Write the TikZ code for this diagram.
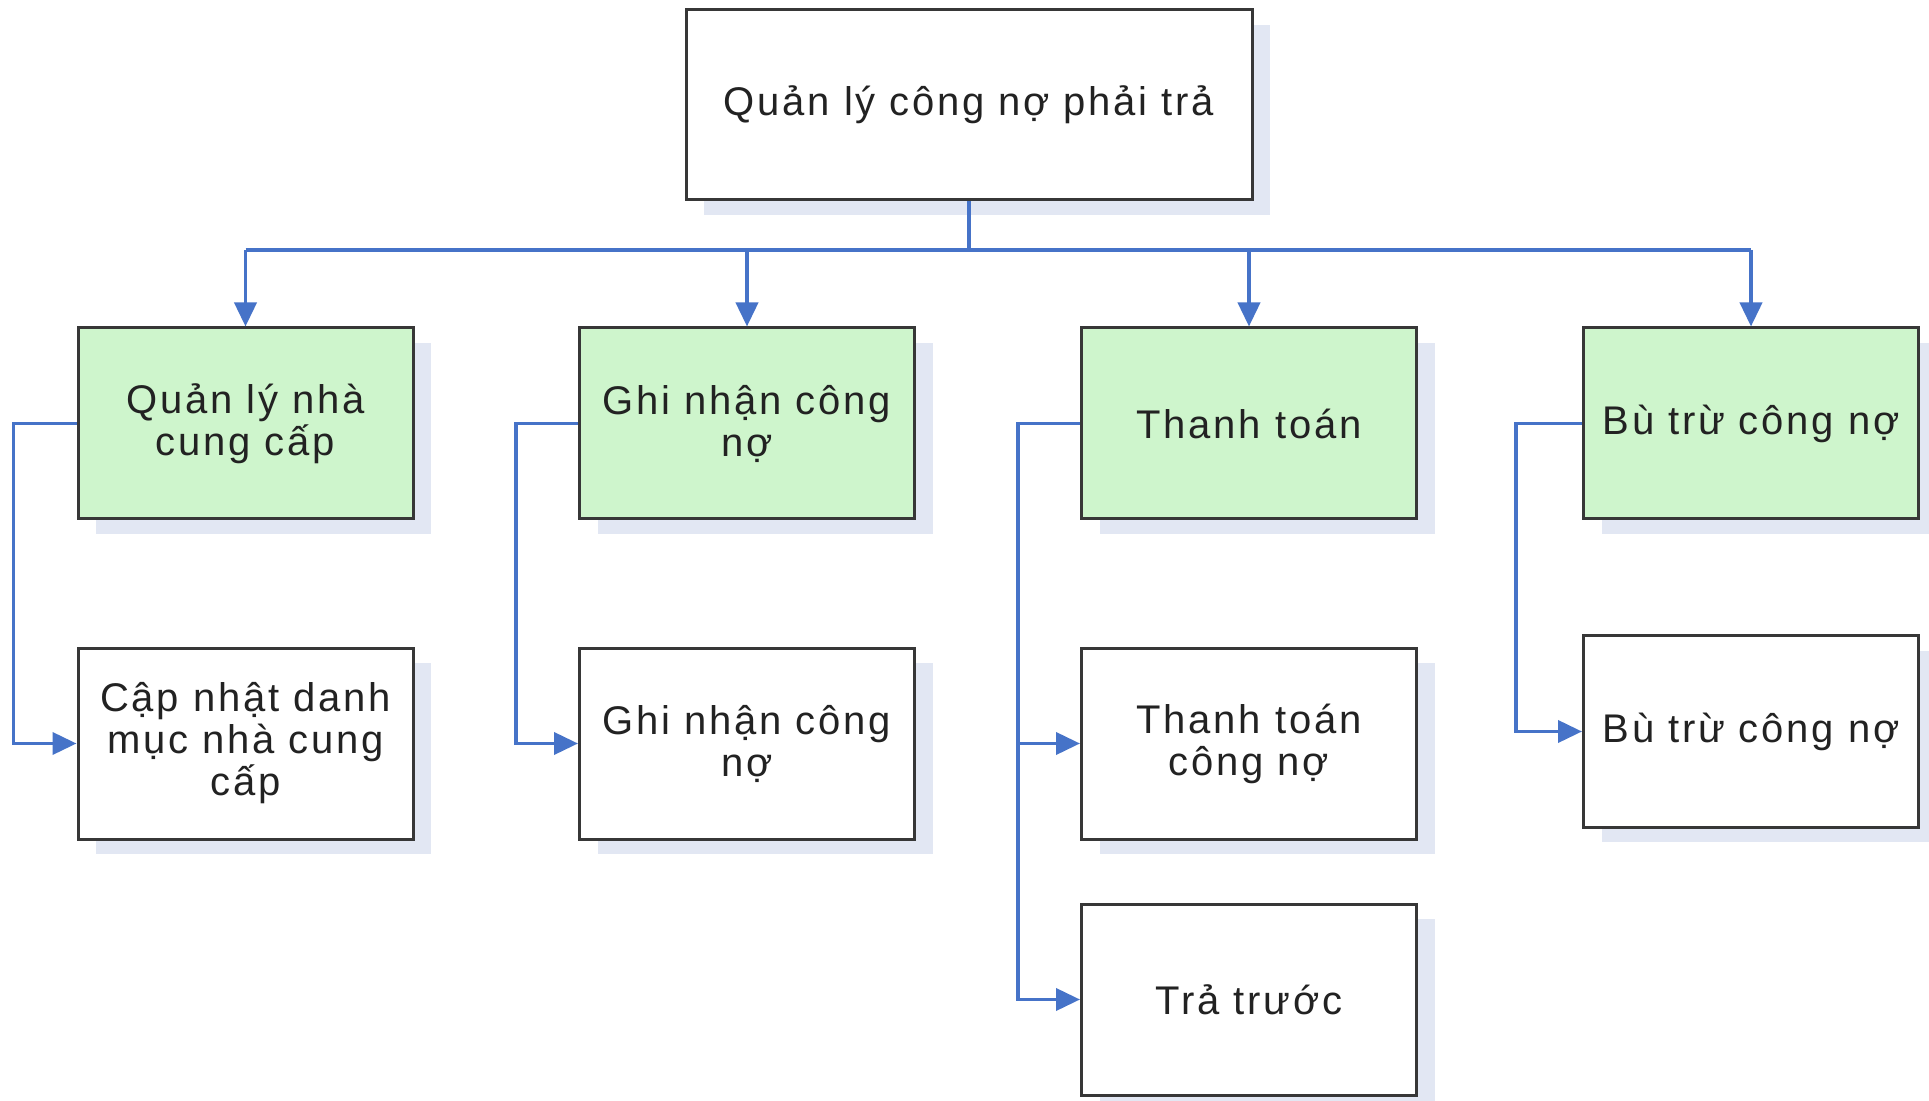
\documentclass[tikz,border=0pt]{standalone}
\usepackage{fontspec}
\setmainfont{Liberation Sans}[LetterSpace=7]
\usetikzlibrary{arrows.meta}
\definecolor{linkblue}{RGB}{70,115,200}
\definecolor{leafgreen}{RGB}{206,245,204}
\definecolor{boxedge}{RGB}{55,55,55}
\definecolor{shadowtint}{RGB}{226,231,243}
\definecolor{labeltext}{RGB}{34,34,34}
\tikzset{
  box/.style={draw=boxedge, line width=1.5pt, fill=white,
    minimum width=167.5pt, minimum height=95.5pt, inner sep=0pt,
    align=center, text=labeltext,
    font=\fontsize{20}{21}\selectfont,
    preaction={fill=shadowtint, draw=none,
      transform canvas={xshift=9pt,yshift=-7.5pt}}},
  groupbox/.style={box, fill=leafgreen},
  link/.style={draw=linkblue, line width=1.9pt},
  arrowlink/.style={link, -{Triangle[length=12pt,width=11pt]}},
}
\begin{document}
\begin{tikzpicture}[x=0.5pt,y=-0.5pt]
\useasboundingbox (0,0) rectangle (1929,1101);
\fill[white] (0,0) rectangle (1929,1101);

% root
\node[box, minimum width=283pt, minimum height=95pt] (root) at (969,105)
  {Quản lý công nợ phải trả};

% second level
\node[groupbox] (g1) at (245.5,423.5) {Quản lý nhà\\cung cấp};
\node[groupbox] (g2) at (747,423.5)   {Ghi nhận công\\nợ};
\node[groupbox] (g3) at (1249,423.5)  {Thanh toán};
\node[groupbox] (g4) at (1751,423.5)  {Bù trừ công nợ};

% leaves
\node[box] (c1) at (245.5,743.5) {Cập nhật danh\\mục nhà cung\\cấp};
\node[box] (c2) at (747,743.5)   {Ghi nhận công\\nợ};
\node[box] (c3) at (1249,743.5)  {Thanh toán\\công nợ};
\node[box] (c4) at (1249,999.5)  {Trả trước};
\node[box] (c5) at (1751,731.5)  {Bù trừ công nợ};

% bus from root to the groups
\coordinate (busmid) at (969,250);
\draw[link] (root.south) -- (busmid);
\draw[link] (g1.north |- busmid) -- (g4.north |- busmid);
\foreach \g in {g1,g2,g3,g4}
  \draw[arrowlink] (\g.north |- busmid) -- (\g.north);

% group to leaves
\draw[arrowlink] (g1.west) -- ++(-63,0) |- (c1.west);
\draw[arrowlink] (g2.west) -- ++(-62,0) |- (c2.west);
\coordinate (spine3) at ([xshift=-31pt]g3.west);
\draw[arrowlink] (g3.west) -- (spine3) |- (c3.west);
\draw[arrowlink] (spine3) |- (c4.west);
\draw[arrowlink] (g4.west) -- ++(-66,0) |- (c5.west);
\end{tikzpicture}
\end{document}
